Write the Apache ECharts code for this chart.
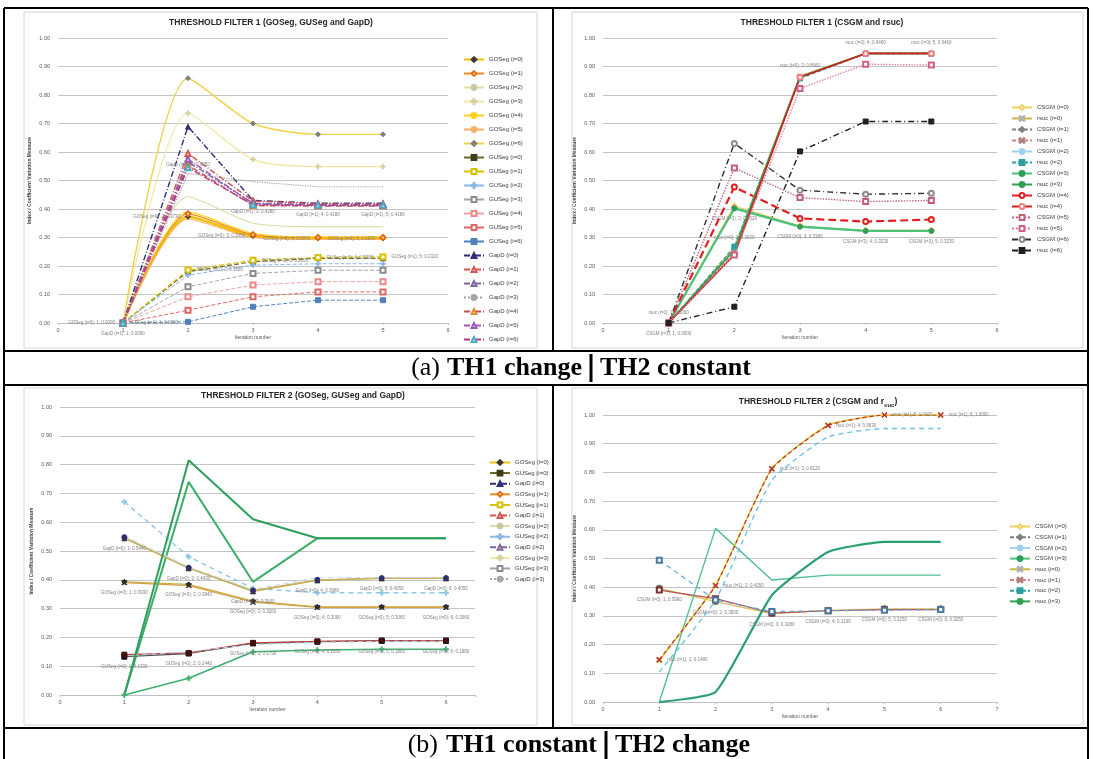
<!DOCTYPE html>
<html><head><meta charset="utf-8">
<script src="https://cdn.jsdelivr.net/npm/echarts@6/dist/echarts.min.js"></script>
<style>html,body{margin:0;padding:0;background:#fff}#c{width:1093px;height:759px}</style>
</head><body><div id="c"></div><script>
// ---------- DATA ----------
const iterTop = [1, 2, 3, 4, 5];
const iterBottom = [1, 2, 3, 4, 5, 6];
const idxTL = ['i=0','i=1','i=2','i=3','i=4','i=5','i=6'];
const idxBL = ['i=0','i=1','i=2','i=3'];

// Top-left: THRESHOLD FILTER 1 (GOSeg, GUSeg and GapD)
const tlGOSeg = [
  [0, 0.373, 0.305, 0.297, 0.297],
  [0, 0.383, 0.310, 0.300, 0.300],
  [0, 0.443, 0.350, 0.338, 0.338],
  [0, 0.736, 0.574, 0.549, 0.549],
  [0, 0.390, 0.315, 0.302, 0.302],
  [0, 0.365, 0.300, 0.293, 0.293],
  [0, 0.859, 0.700, 0.662, 0.662]
];
const tlGUSeg = [
  [0, 0.180, 0.215, 0.227, 0.227],
  [0, 0.186, 0.220, 0.230, 0.232],
  [0, 0.168, 0.203, 0.208, 0.208],
  [0, 0.127, 0.174, 0.185, 0.185],
  [0, 0.092, 0.133, 0.145, 0.145],
  [0, 0.045, 0.092, 0.109, 0.109],
  [0, 0.004, 0.057, 0.080, 0.080]
];
const tlGapD = [
  [0, 0.689, 0.430, 0.420, 0.420],
  [0, 0.595, 0.428, 0.418, 0.418],
  [0, 0.566, 0.420, 0.415, 0.415],
  [0, 0.525, 0.496, 0.478, 0.478],
  [0, 0.554, 0.412, 0.410, 0.410],
  [0, 0.575, 0.418, 0.412, 0.412],
  [0, 0.545, 0.415, 0.413, 0.413]
];
// Top-right: THRESHOLD FILTER 1 (CSGM and rsuc)
const trCSGM = [
  [0, 0.410, 0.340, 0.325, 0.325],
  [0, 0.405, 0.338, 0.324, 0.324],
  [0, 0.400, 0.336, 0.322, 0.322],
  [0, 0.402, 0.338, 0.323, 0.323],
  [0, 0.477, 0.367, 0.356, 0.363],
  [0, 0.544, 0.440, 0.426, 0.430],
  [0, 0.630, 0.466, 0.452, 0.455]
];
const trRsuc = [
  [0, 0.262, 0.866, 0.946, 0.946],
  [0, 0.250, 0.860, 0.944, 0.944],
  [0, 0.268, 0.858, 0.945, 0.945],
  [0, 0.256, 0.864, 0.946, 0.946],
  [0, 0.240, 0.862, 0.946, 0.946],
  [0, 0.239, 0.823, 0.908, 0.905],
  [0, 0.057, 0.602, 0.707, 0.707]
];
// Bottom-left: THRESHOLD FILTER 2 (GOSeg, GUSeg and GapD)
const blGOSeg = [
  [0.393, 0.384, 0.326, 0.306, 0.306, 0.306],
  [0.390, 0.380, 0.322, 0.304, 0.304, 0.304],
  [0.671, 0.480, 0.370, 0.355, 0.355, 0.355],
  [0.000, 0.740, 0.393, 0.544, 0.544, 0.544]
];
const blGUSeg = [
  [0.133, 0.144, 0.179, 0.185, 0.188, 0.188],
  [0.140, 0.146, 0.181, 0.186, 0.189, 0.189],
  [0.136, 0.150, 0.175, 0.183, 0.186, 0.186],
  [0.000, 0.058, 0.150, 0.156, 0.159, 0.159]
];
const blGapD = [
  [0.544, 0.440, 0.360, 0.398, 0.405, 0.405],
  [0.548, 0.442, 0.363, 0.400, 0.406, 0.406],
  [0.552, 0.445, 0.366, 0.408, 0.408, 0.408],
  [0.000, 0.815, 0.610, 0.544, 0.544, 0.544]
];
// Bottom-right: THRESHOLD FILTER 2 (CSGM and r_suc)
const brCSGM = [
  [0.396, 0.350, 0.308, 0.319, 0.325, 0.325],
  [0.390, 0.360, 0.310, 0.318, 0.322, 0.322],
  [0.494, 0.355, 0.315, 0.318, 0.320, 0.322],
  [0.000, 0.605, 0.425, 0.442, 0.442, 0.442]
];
const brRsuc = [
  [0.145, 0.407, 0.814, 0.965, 1.000, 1.000],
  [0.148, 0.405, 0.812, 0.963, 1.000, 1.000],
  [0.104, 0.355, 0.773, 0.924, 0.953, 0.953],
  [0.000, 0.035, 0.372, 0.523, 0.558, 0.558]
];

// ---------- STYLES ----------
const PLUS = 'path://M4,0L6,0L6,4L10,4L10,6L6,6L6,10L4,10L4,6L0,6L0,4L4,4Z';
const CROSS = 'path://M1,0L5,4L9,0L10,1L6,5L10,9L9,10L5,6L1,10L0,9L4,5L0,1Z';
// [lineColor, markerColor, symbol, lineType, width]
const tlGOSegSt = [
  ['#f2c200','#3a3a3a','diamond','solid',2.5],
  ['#f08a24','#e46c0a','emptyDiamond','solid',1.2],
  ['#dcdca8','#c8c8a0','none','solid',1.2],
  ['#f3e6a0','#d9d0a0',PLUS,'solid',1.2],
  ['#ffd21f','#ffd21f','none','solid',1.2],
  ['#f7b06a','#f7b06a','none','solid',1.2],
  ['#f0d24a','#7f7f7f','diamond','solid',1.4]
];
const tlGUSegSt = [
  ['#6b6b2a','#3d3d1a','rect','dashed',1.2],
  ['#d8c000','#d8c000','emptyRect','dashed',1.2],
  ['#8cb8e6','#8cb8e6',PLUS,'dashed',1.0],
  ['#a6a6a6','#8c8c8c','emptyRect','dashed',1.0],
  ['#f2a0a0','#e88a8a','emptyRect','dashed',1.0],
  ['#e06666','#e06666','emptyRect','dashed',1.0],
  ['#4f81bd','#4f81bd','rect','dashed',1.0]
];
const tlGapDSt = [
  ['#2e2e7a','#2e2e7a','triangle',[6,2,1,2],1.4],
  ['#d9534f','#d9534f','emptyTriangle',[6,2,1,2],1.4],
  ['#8064a2','#8064a2','emptyTriangle',[6,2,1,2],1.4],
  ['#a6a6a6','#a6a6a6','none','dotted',1.2],
  ['#c0504d','#e08a30','emptyTriangle',[6,2,1,2],1.4],
  ['#9b59b6','#9b59b6','emptyTriangle',[6,2,1,2],1.4],
  ['#b03a8a','#4bacc6','emptyTriangle',[6,2,1,2],1.4]
];
const trCSGMSt = [
  ['#f0d060','#f0d060','emptyDiamond','solid',1.4],
  ['#7f7f7f','#7f7f7f','diamond',[4,2],1.2],
  ['#9dd3f0','#9dd3f0','none','solid',1.2],
  ['#4cc27a','#2e9e5a','circle','solid',2.2],
  ['#e02020','#e02020','emptyCircle',[8,4],2.2],
  ['#c0607a','#c0607a','emptyRect','dotted',1.4],
  ['#303030','#8c8c8c','emptyCircle',[6,3,1,3],1.4]
];
const trRsucSt = [
  ['#c8b840','#b0b0b0',CROSS,'solid',1.6],
  ['#d08080','#b08080',CROSS,[4,2],1.2],
  ['#2aa0a0','#2aa0a0','rect',[4,2],1.2],
  ['#30a050','#30a050','none','solid',1.6],
  ['#d02020','#f08080','emptyCircle','solid',1.6],
  ['#e07aa0','#d06080','emptyRect','dotted',1.4],
  ['#202020','#202020','rect',[6,3,1,3],1.4]
];
const blGOSegSt = [
  ['#c8b040','#202020','diamond','solid',1.2],
  ['#d4a04a','#303030',CROSS,'solid',1.2],
  ['#8cc8e8','#8cc8e8',PLUS,[5,4],1.4],
  ['#3cae6a','#3cae6a','none','solid',2.0]
];
const blGUSegSt = [
  ['#505050','#101010','rect','solid',1.2],
  ['#c04040','#401010','rect','solid',1.2],
  ['#a8d4ec','#a8d4ec','none',[5,4],1.2],
  ['#40b070','#40b070',PLUS,'solid',1.6]
];
const blGapDSt = [
  ['#b8a840','#303030','triangle','solid',1.2],
  ['#d0b060','#2e2e6a','circle','solid',1.2],
  ['#c0e0f0','#a0c8e0','none',[5,4],1.2],
  ['#2e9e5e','#2e9e5e','none','solid',2.0]
];
const brCSGMSt = [
  ['#d8c060','#707050','emptyCircle','solid',1.2],
  ['#b05050','#803030','emptyRect','solid',1.2],
  ['#60a8e0','#4a7aa0','emptyRect',[5,4],1.2],
  ['#50c090','#50c090','none','solid',1.4]
];
const brRsucSt = [
  ['#e0c020','#c0a020',CROSS,'solid',1.4],
  ['#c03030','#c03030',CROSS,[4,3],1.2],
  ['#70c0e8','#70c0e8','none',[5,4],1.4],
  ['#2aa070','#2aa070','none','solid',2.2]
];

// ---------- BUILD ----------
const series = [];
function addSeries(grid, prefix, idxNames, rows, styles, xs, opts) {
  opts = opts || {};
  const names = [];
  rows.forEach((vals, i) => {
    const st = styles[i];
    const name = prefix + ' (' + idxNames[i] + ')';
    names.push(name);
    const s = {
      type: 'line', name, xAxisIndex: grid, yAxisIndex: grid,
      data: xs.map((x, k) => [x, vals[k]]),
      symbol: st[2], symbolSize: st[2] === 'none' ? 0 : 5,
      smooth: opts.smooth || false,
      lineStyle: { color: st[0], width: st[4], type: st[3] },
      itemStyle: { color: st[1], borderColor: st[1], borderWidth: 1 },
      emphasis: { disabled: true }, animation: false, z: 3
    };
    if (opts.labels && opts.labels[i]) {
      s.label = {
        show: true, position: opts.labels[i], fontSize: 4.5, color: '#7f7f7f',
        fontFamily: 'Liberation Sans',
        formatter: p => p.seriesName + '; ' + p.value[0] + '; ' + p.value[1].toFixed(4)
      };
    }
    series.push(s);
  });
  return names;
}
const tlNames = []
  .concat(addSeries(0, 'GOSeg', idxTL, tlGOSeg, tlGOSegSt, iterTop, {smooth: 0.25, labels: {0: 'left'}}))
  .concat(addSeries(0, 'GUSeg', idxTL, tlGUSeg, tlGUSegSt, iterTop, {labels: {1: 'right'}}))
  .concat(addSeries(0, 'GapD', idxTL, tlGapD, tlGapDSt, iterTop, {labels: {1: 'bottom'}}));
const trC = addSeries(1, 'CSGM', idxTL, trCSGM, trCSGMSt, iterTop, {labels: {3: 'bottom'}});
const trR = addSeries(1, 'rsuc', idxTL, trRsuc, trRsucSt, iterTop, {labels: {0: 'top'}});
const trNames = [];
for (let i = 0; i < trC.length; i++) { trNames.push(trC[i], trR[i]); }
const blO = addSeries(2, 'GOSeg', idxBL, blGOSeg, blGOSegSt, iterBottom, {labels: {0: 'bottom'}});
const blU = addSeries(2, 'GUSeg', idxBL, blGUSeg, blGUSegSt, iterBottom, {labels: {0: 'bottom'}});
const blG = addSeries(2, 'GapD', idxBL, blGapD, blGapDSt, iterBottom, {labels: {0: 'bottom'}});
const blNames = [];
for (let i = 0; i < blO.length; i++) { blNames.push(blO[i], blU[i], blG[i]); }
const brNames = []
  .concat(addSeries(3, 'CSGM', idxBL, brCSGM, brCSGMSt, iterBottom, {labels: {0: 'bottom'}}))
  .concat(addSeries(3, 'rsuc', idxBL, brRsuc, brRsucSt, iterBottom, {smooth: 0.15, labels: {1: 'right'}}));

const grids = [
  { left: 58, top: 38, width: 390, height: 285 },
  { left: 603, top: 38, width: 394, height: 285 },
  { left: 60, top: 407, width: 415, height: 288 },
  { left: 603, top: 415, width: 394, height: 287 }
];
const xMax = [6, 6, 6.45, 7];
const axisFont = { fontSize: 5.5, color: '#595959', fontFamily: 'Liberation Sans' };
const xAxis = grids.map((g, i) => ({
  type: 'value', gridIndex: i, min: 0, max: xMax[i], interval: 1,
  name: 'Iteration number', nameLocation: 'middle', nameGap: 12,
  nameTextStyle: { fontSize: 5, color: '#595959', fontFamily: 'Liberation Sans' },
  axisLine: { lineStyle: { color: '#bfbfbf' } },
  axisTick: { show: true, length: 2, lineStyle: { color: '#bfbfbf' } },
  axisLabel: Object.assign({ margin: 4, formatter: v => (Math.abs(v - Math.round(v)) < 1e-6 ? String(Math.round(v)) : '') }, axisFont),
  splitLine: { show: false }
}));
const yAxis = grids.map((g, i) => ({
  type: 'value', gridIndex: i, min: 0, max: 1, interval: 0.1,
  name: 'Index / Coefficient Variation Measure', nameLocation: 'middle', nameGap: 26, nameRotate: 90,
  nameTextStyle: { fontSize: 5, color: '#404040', fontWeight: 'bold', fontFamily: 'Liberation Sans' },
  axisLine: { show: false }, axisTick: { show: false },
  axisLabel: Object.assign({ margin: 8, formatter: v => v.toFixed(2) }, axisFont),
  splitLine: { lineStyle: { color: '#c4c4c4', width: 1 } }
}));
function leg(names, left, top, gap) {
  return {
    data: names, orient: 'vertical', left, top, itemGap: gap, itemWidth: 20, itemHeight: 6,
    textStyle: { fontSize: 6, color: '#404040', fontFamily: 'Liberation Sans', lineHeight: 7 },
    selectedMode: false
  };
}
const legend = [
  leg(tlNames, 458, 51, 7.0),
  leg(trNames, 1006, 99, 4.0),
  leg(blNames, 484, 454, 3.6),
  leg(brNames, 1004, 518, 3.7)
];

const blackLine = (x1, y1, x2, y2, w) => ({ type: 'line', shape: { x1, y1, x2, y2 }, style: { stroke: '#000', lineWidth: w || 2 }, z: 10 });
const frame = (x, y, w, h) => ({ type: 'rect', shape: { x, y, width: w, height: h }, style: { fill: 'none', stroke: '#d4d4d4', lineWidth: 1 }, z: 1 });
const titleTxt = (x, y, t, rich) => ({ type: 'text', x, y, style: { text: t, fill: '#262626', font: 'bold 8.5px "Liberation Sans"', align: 'center', verticalAlign: 'middle', rich: rich }, z: 5 });
const capTxt = (x, y, t, align, bold) => ({ type: 'text', x, y, style: { text: t, fill: '#000', font: (bold ? 'bold ' : '') + '26px "Liberation Serif"', align, verticalAlign: 'middle' }, z: 10 });

const graphic = [
  frame(24, 12, 513, 336), frame(572, 12, 511, 336),
  frame(24, 388, 513, 337), frame(572, 388, 511, 337),
  blackLine(4, 8, 1088, 8), blackLine(4, 8, 4, 759), blackLine(1088, 8, 1088, 759),
  blackLine(553, 8, 553, 351), blackLine(553, 385, 553, 728),
  blackLine(4, 351, 1088, 351), blackLine(4, 385, 1088, 385), blackLine(4, 728, 1088, 728),
  { type: 'rect', shape: { x: 589.5, y: 354, width: 3, height: 28 }, style: { fill: '#000' }, z: 10 },
  { type: 'rect', shape: { x: 604.5, y: 731, width: 3, height: 28 }, style: { fill: '#000' }, z: 10 },
  capTxt(440, 368, '(a)', 'right', false), capTxt(582, 368, 'TH1 change', 'right', true), capTxt(600, 368, 'TH2 constant', 'left', true),
  capTxt(438, 745, '(b)', 'right', false), capTxt(597, 745, 'TH1 constant', 'right', true), capTxt(615, 745, 'TH2 change', 'left', true),
  titleTxt(271, 23, 'THRESHOLD FILTER 1 (GOSeg, GUSeg and GapD)'),
  titleTxt(822, 23, 'THRESHOLD FILTER 1 (CSGM and rsuc)'),
  titleTxt(303, 396, 'THRESHOLD FILTER 2 (GOSeg, GUSeg and GapD)'),
  titleTxt(818, 402, 'THRESHOLD FILTER 2 (CSGM and r{s|suc})', { s: { fontSize: 6, fontWeight: 'bold', fontFamily: 'Liberation Sans', fill: '#262626', verticalAlign: 'bottom', padding: [6, 0, 0, 0] } })
];

const chart = echarts.init(document.getElementById('c'), null, { renderer: 'canvas' });
chart.setOption({
  animation: false, backgroundColor: '#fff',
  grid: grids, xAxis, yAxis, legend, series, graphic
});
</script></body></html>
